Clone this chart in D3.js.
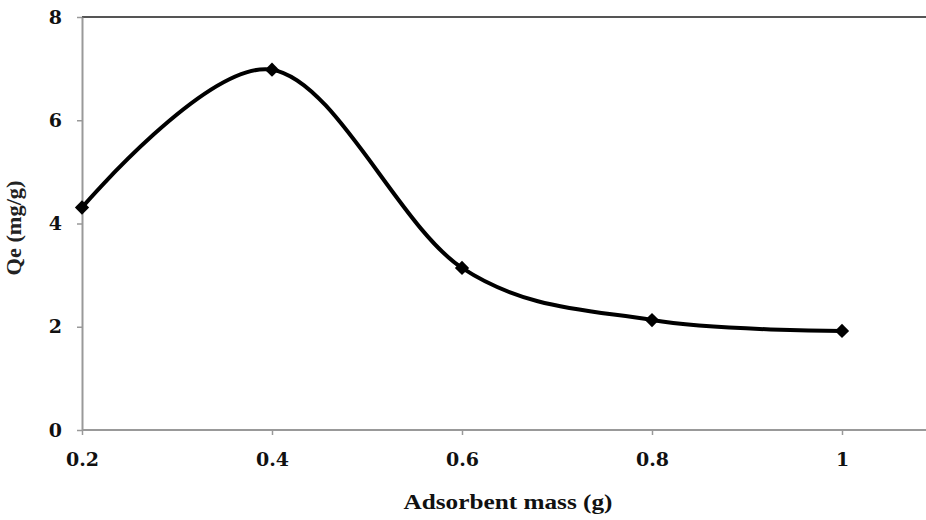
<!DOCTYPE html>
<html><head><meta charset="utf-8">
<script src="https://cdn.jsdelivr.net/npm/d3@7"></script>
<style>html,body{margin:0;padding:0;background:#fff;}svg{display:block;}</style>
</head><body>
<svg id="c" width="926" height="520"></svg>
<script>
const mass = [0.2, 0.4, 0.6, 0.8, 1.0];
const qe = [4.31, 6.98, 3.14, 2.13, 1.92];
const xTicks = [0.2, 0.4, 0.6, 0.8, 1];
const yTicks = [0, 2, 4, 6, 8];
const xTitle = "Adsorbent mass (g)";
const yTitle = "Qe (mg/g)";

const svg = d3.select("#c");
const L = 82, R = 926, T = 17, B = 430;
const x = d3.scaleLinear().domain([0.2, 1.0]).range([L, 842]);
const y = d3.scaleLinear().domain([0, 8]).range([B, T]);
const font = "'DejaVu Serif','Liberation Serif',serif";
const tfont = "'Liberation Serif','Times New Roman',serif";

// top border
svg.append("line").attr("x1", L).attr("x2", R).attr("y1", T).attr("y2", T)
  .attr("stroke", "#555").attr("stroke-width", 2);

// y axis
const ya = svg.append("g").attr("transform", `translate(${L},0)`)
  .call(d3.axisLeft(y).tickValues(yTicks).tickSize(5).tickSizeOuter(0).tickPadding(15).tickFormat(d3.format("d")));
ya.select(".domain").attr("stroke", "#999").attr("stroke-width", 2);
ya.selectAll(".tick line").attr("stroke", "#999").attr("stroke-width", 1.5);
ya.selectAll("text").attr("font-family", font).attr("font-weight", "bold").attr("font-size", 19).attr("fill", "#111");

// x axis
const xa = svg.append("g").attr("transform", `translate(0,${B})`)
  .call(d3.axisBottom(x).tickValues(xTicks).tickSize(5).tickSizeOuter(0).tickPadding(18)
    .tickFormat(d => d === 1 ? "1" : d3.format(".1f")(d)));
xa.select(".domain").attr("d", `M${L},0H${R}`).attr("stroke", "#999").attr("stroke-width", 2);
xa.selectAll(".tick line").attr("stroke", "#999").attr("stroke-width", 1.5);
xa.selectAll("text").attr("font-family", font).attr("font-weight", "bold").attr("font-size", 19).attr("fill", "#111");

// titles
svg.append("text").attr("x", 508).attr("y", 509).attr("text-anchor", "middle")
  .attr("font-family", tfont).attr("font-weight", "bold").attr("font-size", 22).attr("fill", "#111")
  .attr("textLength", 209).attr("lengthAdjust", "spacingAndGlyphs").text(xTitle);
svg.append("text").attr("transform", "translate(21,228) rotate(-90)").attr("text-anchor", "middle")
  .attr("font-family", tfont).attr("font-weight", "bold").attr("font-size", 20).attr("fill", "#222")
  .attr("textLength", 95).attr("lengthAdjust", "spacingAndGlyphs").text(yTitle);

// line
const data = mass.map((m, i) => ({m, q: qe[i]}));
svg.append("path").datum(data)
  .attr("d", d3.line().x(d => x(d.m)).y(d => y(d.q)).curve(d3.curveCardinal.tension(0)))
  .attr("fill", "none").attr("stroke", "#000").attr("stroke-width", 4);

// markers
svg.selectAll(".pt").data(data).enter().append("path")
  .attr("transform", d => `translate(${x(d.m)},${y(d.q)})`)
  .attr("d", d3.symbol().type(d3.symbolDiamond2).size(130))
  .attr("fill", "#000");
</script>
</body></html>
